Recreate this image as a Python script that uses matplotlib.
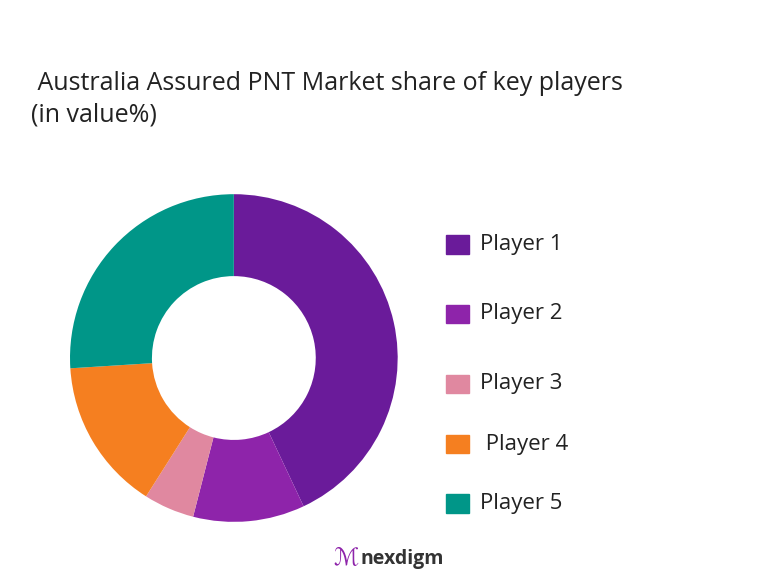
import matplotlib
matplotlib.use("Agg")
import matplotlib.pyplot as plt
from matplotlib.patches import Rectangle

players = ["Player 1", "Player 2", "Player 3", " Player 4", "Player 5"]
shares = [43, 11, 5, 15, 26]
colors = ["#6A1B9A", "#8E24AA", "#E088A0", "#F57F20", "#009688"]

plt.rcParams["font.family"] = ["Open Sans", "DejaVu Sans"]

fig = plt.figure(figsize=(7.71, 5.79), dpi=100)
fig.text(0.040, 0.78, " Australia Assured PNT Market share of key players\n(in value%)",
         fontsize=18, color="#222222", va="bottom", linespacing=1.35)

ax = fig.add_axes([0.0908, 0.0984, 0.425, 0.5665])
ax.pie(shares, colors=colors, startangle=90, counterclock=False,
       wedgeprops=dict(width=0.5, edgecolor="none"))
ax.set_xlim(-1, 1)
ax.set_ylim(-1, 1)
ax.set_aspect("equal")

ys = [0.578, 0.458, 0.337, 0.233, 0.130]
for name, c, y in zip(players, colors, ys):
    fig.patches.append(Rectangle((0.578, y - 0.016), 0.030, 0.032, color=c,
                                 transform=fig.transFigure, figure=fig))
    fig.text(0.622, y, name, fontsize=16, va="center", color="#222222")

fig.text(0.468, 0.035, "nexdigm", fontsize=14, color="#333333", fontweight="bold", va="center")
fig.text(0.432, 0.035, "ℳ", fontsize=17, color="#8E24AA", va="center")

fig.savefig("out.png", dpi=100, facecolor="white")
